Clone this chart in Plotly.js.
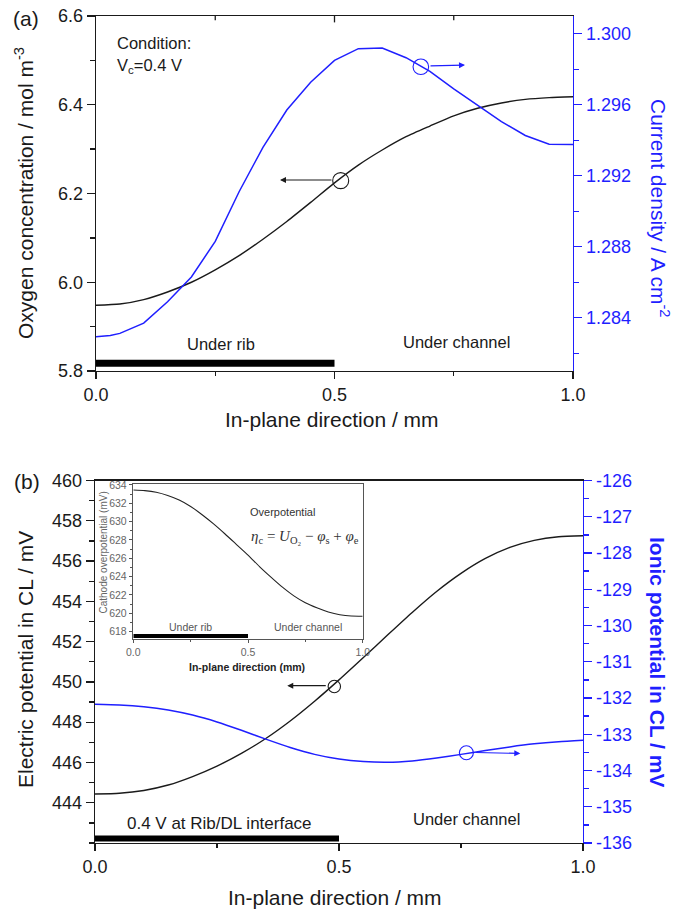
<!DOCTYPE html>
<html><head><meta charset="utf-8">
<script src="https://cdn.plot.ly/plotly-3.0.1.min.js"></script>
<style>body{margin:0;background:#fff}#chart{width:684px;height:909px}</style>
</head><body><div id="chart"></div>
<script>
// ---------- data ----------
// Panel (a)
const posA = [0,0.05,0.1,0.15,0.2,0.25,0.3,0.35,0.4,0.45,0.5,0.55,0.6,0.65,0.7,0.75,0.8,0.85,0.9,0.95,1.0];
const oxygenConc = [5.948,5.951,5.961,5.978,6.000,6.028,6.060,6.097,6.137,6.180,6.224,6.264,6.298,6.328,6.352,6.375,6.392,6.404,6.412,6.416,6.418];
const posJ = [0,0.03,0.05,0.1,0.15,0.2,0.25,0.3,0.35,0.4,0.45,0.5,0.55,0.6,0.65,0.7,0.75,0.8,0.85,0.9,0.95,1.0];
const currentDensity = [1.28293,1.28300,1.28312,1.28370,1.28490,1.28630,1.28830,1.29110,1.29360,1.29570,1.29727,1.29850,1.29916,1.29920,1.29865,1.29788,1.29689,1.29595,1.29505,1.29427,1.29378,1.29376];
// Panel (b)
const posB = [0,0.05,0.1,0.15,0.2,0.25,0.3,0.35,0.4,0.45,0.5,0.55,0.6,0.65,0.7,0.75,0.8,0.85,0.9,0.95,1.0];
const electricPot = [444.43,444.47,444.61,444.88,445.30,445.82,446.45,447.19,448.06,449.04,450.10,451.21,452.34,453.45,454.49,455.39,456.13,456.68,457.03,457.21,457.26];
const ionicPot = [-132.17,-132.19,-132.24,-132.33,-132.47,-132.66,-132.89,-133.135,-133.365,-133.555,-133.685,-133.755,-133.775,-133.735,-133.655,-133.555,-133.45,-133.35,-133.265,-133.205,-133.165];
// Inset
const posInset = [0,0.05,0.1,0.15,0.2,0.25,0.3,0.35,0.4,0.45,0.5,0.55,0.6,0.65,0.7,0.75,0.8,0.85,0.9,0.95,1.0];
const overpotential = [633.45,633.38,633.20,632.85,632.35,631.65,630.75,629.75,628.65,627.50,626.35,625.10,623.95,622.85,621.90,621.15,620.60,620.15,619.85,619.70,619.68];
// Tick labels
const xTickVals = [0, 0.5, 1.0];
const xTickText = ['0.0', '0.5', '1.0'];
const elecTickVals = [444,446,448,450,452,454,456,458,460];
const ionTickVals = [-136,-135,-134,-133,-132,-131,-130,-129,-128,-127,-126];
const ionTickText = ['-136','-135','-134','-133','-132','-131','-130','-129','-128','-127','-126'];

// ---------- layout helpers ----------
const W = 684, H = 909;
const px = v => v / W;
const py = v => 1 - v / H;
const F = 'Liberation Sans, Arial, Helvetica, sans-serif';
const BLK = '#1a1a1a';
const BLUE = '#1f1fff';
const GRAY = '#555555';

function ax(extra) {
  return Object.assign({showgrid:false, zeroline:false, showline:true, linewidth:1.3,
    ticks:'outside', tickwidth:1.3, fixedrange:true, linecolor:BLK, tickcolor:BLK,
    tickfont:{family:F, size:18, color:BLK}}, extra);
}

const traces = [
  {x:posA, y:oxygenConc, xaxis:'x', yaxis:'y', mode:'lines', line:{color:BLK, width:1.4, shape:'spline', smoothing:0.6}, hoverinfo:'skip'},
  {x:posJ, y:currentDensity, xaxis:'x', yaxis:'y2', mode:'lines', line:{color:BLUE, width:1.5}, hoverinfo:'skip'},
  {x:posB, y:electricPot, xaxis:'x2', yaxis:'y3', mode:'lines', line:{color:BLK, width:1.4, shape:'spline', smoothing:0.6}, hoverinfo:'skip'},
  {x:posB, y:ionicPot, xaxis:'x2', yaxis:'y4', mode:'lines', line:{color:BLUE, width:1.5, shape:'spline', smoothing:0.6}, hoverinfo:'skip'},
  {x:posInset, y:overpotential, xaxis:'x3', yaxis:'y5', mode:'lines', line:{color:'#222', width:1.1, shape:'spline', smoothing:0.6}, hoverinfo:'skip'}
];

const layout = {
  width:W, height:H, margin:{l:0,r:0,t:0,b:0}, showlegend:false,
  paper_bgcolor:'#fff', plot_bgcolor:'#fff',
  font:{family:F, color:BLK},
  // panel (a)
  xaxis: ax({domain:[px(96), px(573)], anchor:'y', range:[0,1], mirror:true,
    tickvals:xTickVals, ticktext:xTickText, ticklen:7,
    minor:{tickvals:[0.25,0.75], ticks:'outside', ticklen:4, tickwidth:1.3, tickcolor:BLK}}),
  yaxis: ax({domain:[py(371), py(16)], anchor:'x', range:[5.8,6.6], tick0:5.8, dtick:0.2, tickformat:'.1f', ticklen:8,
    minor:{dtick:0.1, ticks:'outside', ticklen:4.5, tickwidth:1.3, tickcolor:BLK}}),
  yaxis2: ax({overlaying:'y', side:'right', anchor:'x', range:[1.281,1.301], tick0:1.284, dtick:0.004, tickformat:'.3f', ticklen:8,
    linecolor:BLUE, tickcolor:BLUE, tickfont:{family:F, size:18, color:BLUE},
    minor:{dtick:0.002, ticks:'outside', ticklen:5, tickwidth:1.3, tickcolor:BLUE}}),
  // panel (b)
  xaxis2: ax({domain:[px(95), px(583)], anchor:'y3', range:[0,1], mirror:true,
    tickvals:xTickVals, ticktext:xTickText, ticklen:7,
    minor:{tickvals:[0.25,0.75], ticks:'outside', ticklen:4, tickwidth:1.3, tickcolor:BLK}}),
  yaxis3: ax({domain:[py(843), py(480.5)], anchor:'x2', range:[442,460], tickvals:elecTickVals, ticklen:8,
    minor:{tick0:442, dtick:1, ticks:'outside', ticklen:4.5, tickwidth:1.3, tickcolor:BLK}}),
  yaxis4: ax({overlaying:'y3', side:'right', anchor:'x2', range:[-136,-126], tickvals:ionTickVals, ticktext:ionTickText, ticklen:8,
    linecolor:BLUE, tickcolor:BLUE, tickfont:{family:F, size:18, color:BLUE},
    minor:{tick0:-136, dtick:0.5, ticks:'outside', ticklen:5, tickwidth:1.3, tickcolor:BLUE}}),
  // inset
  xaxis3: ax({domain:[px(133.3), px(362.7)], anchor:'y5', range:[0,1], mirror:true, linewidth:1, linecolor:GRAY, tickcolor:GRAY, tickwidth:1,
    tickvals:xTickVals, ticktext:xTickText, ticklen:3, tickfont:{family:F, size:10.5, color:'#666'},
    minor:{tickvals:[0.25,0.75], ticks:'outside', ticklen:2, tickwidth:1, tickcolor:GRAY}}),
  yaxis5: ax({domain:[py(639), py(484)], anchor:'x3', range:[617.2,634.1], mirror:true, linewidth:1, linecolor:GRAY, tickcolor:GRAY, tickwidth:1,
    tick0:618, dtick:2, ticklen:3.5, tickfont:{family:F, size:10.5, color:'#666'},
    minor:{dtick:1, ticks:'outside', ticklen:2, tickwidth:1, tickcolor:GRAY}}),
  shapes: [
    // rib bars
    {type:'line', xref:'x', yref:'y', x0:0, x1:0.5, y0:5.8174, y1:5.8174, line:{color:'#000', width:7}},
    {type:'line', xref:'x2', yref:'y3', x0:0, x1:0.5, y0:442.22, y1:442.22, line:{color:'#000', width:6}},
    {type:'line', xref:'x3', yref:'y5', x0:0, x1:0.5, y0:617.52, y1:617.52, line:{color:'#000', width:4}},
    // top inward ticks panel (a)
    {type:'line', xref:'x', yref:'y domain', x0:0.25, x1:0.25, y0:1, y1:0.988, line:{color:BLK, width:1.3}},
    {type:'line', xref:'x', yref:'y domain', x0:0.5, x1:0.5, y0:1, y1:0.982, line:{color:BLK, width:1.3}},
    {type:'line', xref:'x', yref:'y domain', x0:0.75, x1:0.75, y0:1, y1:0.988, line:{color:BLK, width:1.3}},
    // circles marking curves
    {type:'circle', xref:'x', yref:'y', xsizemode:'pixel', ysizemode:'pixel', xanchor:0.513, yanchor:6.229, x0:-8, x1:8, y0:-8, y1:8, line:{color:BLK, width:1.1}},
    {type:'circle', xref:'x', yref:'y2', xsizemode:'pixel', ysizemode:'pixel', xanchor:0.681, yanchor:1.29814, x0:-7.8, x1:7.8, y0:-7.8, y1:7.8, line:{color:BLUE, width:1.1}},
    {type:'circle', xref:'x2', yref:'y3', xsizemode:'pixel', ysizemode:'pixel', xanchor:0.4904, yanchor:449.77, x0:-6.2, x1:6.2, y0:-6.2, y1:6.2, line:{color:BLK, width:1.1}},
    {type:'circle', xref:'x2', yref:'y4', xsizemode:'pixel', ysizemode:'pixel', xanchor:0.761, yanchor:-133.51, x0:-7, x1:7, y0:-7, y1:7, line:{color:BLUE, width:1.1}}
  ],
  annotations: []
};

function txt(t, x, y, o) {
  layout.annotations.push(Object.assign({text:t, x:px(x), y:py(y), xref:'paper', yref:'paper',
    showarrow:false, xanchor:'center', yanchor:'middle', font:{family:F, size:16.5, color:BLK}}, o || {}));
}
function arrow(xr, yr, x, y, axp, ayp, color) {
  layout.annotations.push({text:'', x:x, y:y, xref:xr, yref:yr, ax:axp, ay:ayp, showarrow:true,
    arrowhead:2, arrowsize:1, arrowwidth:1.2, arrowcolor:color, standoff:0, startstandoff:0});
}

// panel labels
txt('(a)', 26, 19, {font:{family:F, size:21, color:BLK}});
txt('(b)', 27, 481, {font:{family:F, size:21, color:BLK}});
// axis titles
txt('Oxygen concentration / mol m<sup>-3</sup>', 24, 193, {textangle:-90, font:{family:F, size:21, color:BLK}});
txt('Current density / A cm<sup>-2</sup>', 660, 208, {textangle:90, font:{family:F, size:21, color:BLUE}});
txt('In-plane direction / mm', 332, 419, {font:{family:F, size:21, color:BLK}});
txt('Electric potential in CL / mV', 25, 660, {textangle:-90, font:{family:F, size:21, color:BLK}});
txt('<b>Ionic potential in CL / mV</b>', 658, 662, {textangle:90, font:{family:F, size:21, color:BLUE}});
txt('In-plane direction / mm', 335, 897, {font:{family:F, size:21, color:BLK}});
// panel (a) texts
txt('Condition:', 114.5, 43.5, {xanchor:'left'});
txt('V<sub>c</sub>=0.4 V', 114.5, 66, {xanchor:'left'});
txt('Under rib', 221, 344);
txt('Under channel', 456, 341.5);
// panel (b) texts
txt('0.4 V at Rib/DL interface', 219.5, 823, {font:{family:F, size:17, color:BLK}});
txt('Under channel', 466, 819);
// inset texts
txt('Overpotential', 282.5, 512, {font:{family:F, size:11, color:'#333'}});
txt('<i>η</i><sub>c</sub> = <i>U</i><sub>O₂</sub> − <i>φ</i><sub>s</sub> + <i>φ</i><sub>e</sub>', 305, 537, {font:{family:'Liberation Serif, Times New Roman, serif', size:15, color:'#333'}});
txt('Under rib', 190, 626.5, {font:{family:F, size:10.5, color:'#555'}});
txt('Under channel', 308.3, 626.5, {font:{family:F, size:10.5, color:'#555'}});
txt('<b>In-plane direction (mm)</b>', 247, 666.5, {font:{family:F, size:10.5, color:'#222'}});
txt('Cathode overpotential (mV)', 102.5, 553, {textangle:-90, font:{family:F, size:10, color:'#666'}});
// arrows pointing to axes
arrow('x', 'y', 0.3857, 6.2304, 53, 0, BLK);
arrow('x', 'y2', 0.7736, 1.29824, -36, 1, BLUE);
arrow('x2', 'y3', 0.394, 449.81, 40, 0, BLK);
arrow('x2', 'y4', 0.8715, -133.53, -46, -1, BLUE);

Plotly.newPlot('chart', traces, layout, {staticPlot:true, displayModeBar:false});
</script>
</body></html>
